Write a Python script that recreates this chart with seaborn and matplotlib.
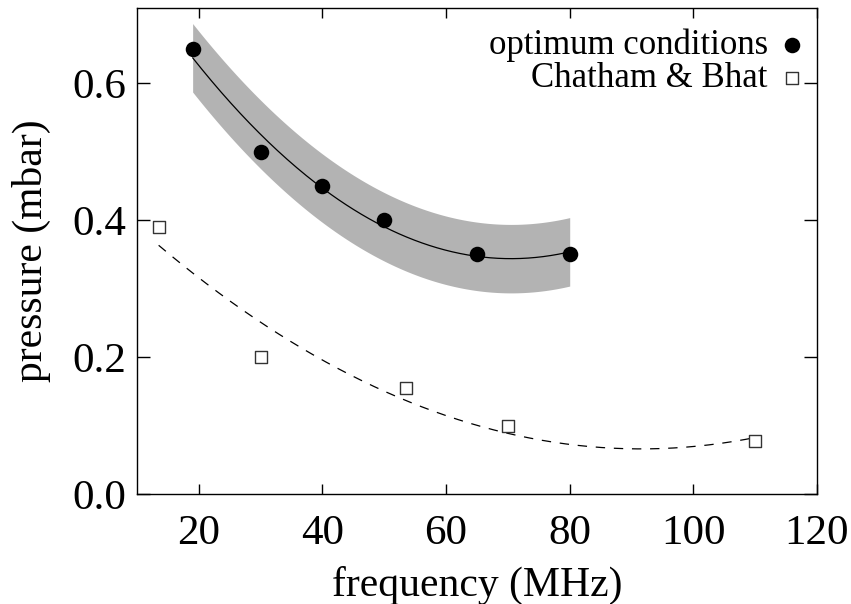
import numpy as np
import pandas as pd
import matplotlib
matplotlib.use("Agg")
import matplotlib.pyplot as plt
import seaborn as sns

# Measured pressure vs. RF frequency
opt_freq = [19, 30, 40, 50, 65, 80]
opt_pressure = [0.65, 0.50, 0.45, 0.40, 0.35, 0.35]

cb_freq = [13.5, 30, 53.5, 70, 110]
cb_pressure = [0.39, 0.20, 0.155, 0.10, 0.077]

band_halfwidth = 0.05

x_ticks = [20, 40, 60, 80, 100, 120]
y_ticks = [0.0, 0.2, 0.4, 0.6]

sns.set_theme(style="ticks")
plt.rcParams["font.family"] = ["Liberation Serif", "DejaVu Serif"]
for key in ("text.color", "axes.labelcolor", "xtick.color", "ytick.color",
            "axes.edgecolor"):
    plt.rcParams[key] = "black"

fig = plt.figure(figsize=(8.51, 6.04), dpi=100)
ax = fig.add_axes([0.161, 0.182, 0.799, 0.805])

# quadratic fits through each data set
opt_coef = np.polyfit(opt_freq, opt_pressure, 2)
cb_coef = np.polyfit(cb_freq, cb_pressure, 2)
xo = np.linspace(min(opt_freq), max(opt_freq), 200)
xc = np.linspace(min(cb_freq), max(cb_freq), 300)
yo = np.polyval(opt_coef, xo)
yc = np.polyval(cb_coef, xc)

ax.fill_between(xo, yo - band_halfwidth, yo + band_halfwidth,
                color="#b3b3b3", linewidth=0, zorder=1)
sns.lineplot(x=xo, y=yo, color="black", linewidth=0.9, ax=ax, zorder=2)
sns.lineplot(x=xc, y=yc, color="black", linewidth=0.9, ax=ax, zorder=2)
ax.lines[-1].set_dashes((7.5, 7))

opt_df = pd.DataFrame({"f": opt_freq, "p": opt_pressure})
cb_df = pd.DataFrame({"f": cb_freq, "p": cb_pressure})
sns.scatterplot(data=opt_df, x="f", y="p", marker="o", s=125, color="black",
                edgecolor="black", linewidth=0, ax=ax, zorder=3,
                label="optimum conditions")
sns.scatterplot(data=cb_df, x="f", y="p", marker="s", s=80, facecolor="white",
                edgecolor="#333333", linewidth=1.0, ax=ax, zorder=3,
                label="Chatham & Bhat")

ax.set_xlim(10, 120)
ax.set_ylim(0, 0.71)
ax.set_xticks(x_ticks)
ax.set_yticks(y_ticks)
ax.set_yticklabels([f"{v:.1f}" for v in y_ticks])
ax.tick_params(axis="x", direction="in", length=7, width=1, top=True,
               labelsize=31, pad=15, color="black")
ax.tick_params(axis="y", direction="in", length=9.5, width=1, right=True,
               labelsize=31, pad=8, color="black")
for sp in ax.spines.values():
    sp.set_visible(True)
    sp.set_color("black")
    sp.set_linewidth(1.0)

ax.set_xlabel("frequency (MHz)", fontsize=30, labelpad=9)
ax.set_ylabel("pressure (mbar)", fontsize=30, labelpad=15)

leg = ax.legend(loc="upper right", bbox_to_anchor=(1.025, 1.008), frameon=False,
                markerfirst=False, fontsize=25, handletextpad=0.2,
                labelspacing=0.0, borderaxespad=0.3, handlelength=1.0)

fig.savefig("out.png", dpi=100)
